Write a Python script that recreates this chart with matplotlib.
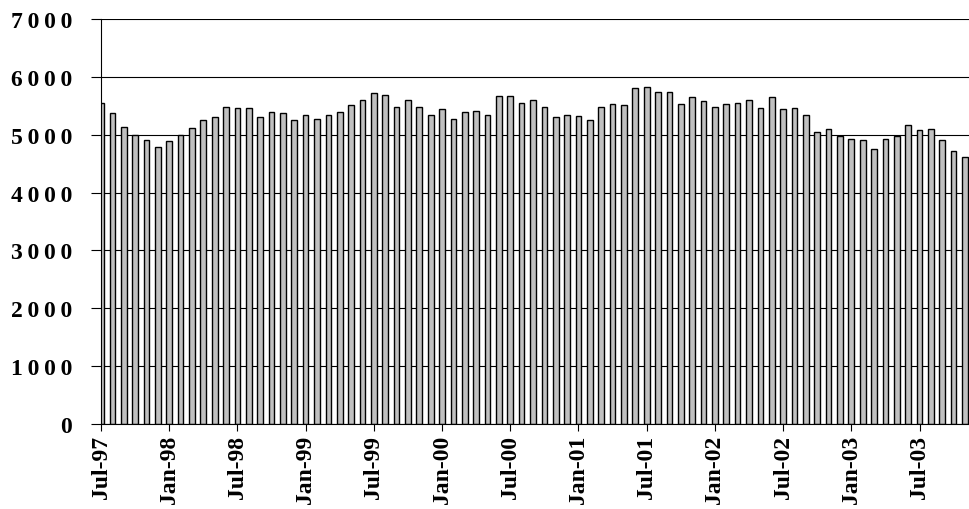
import matplotlib
matplotlib.use('Agg')
import matplotlib.pyplot as plt
from matplotlib.ticker import FuncFormatter

# monthly values, Jul-97 .. Nov-03
values = [5556, 5371, 5139, 5000, 4913, 4792, 4891, 5000, 5122, 5260,
          5302, 5486, 5463, 5463, 5302, 5399, 5371, 5260, 5347, 5278,
          5347, 5399, 5510, 5602, 5718, 5694, 5486, 5602, 5486, 5347,
          5440, 5278, 5399, 5417, 5347, 5672, 5672, 5556, 5602, 5486,
          5302, 5347, 5325, 5255, 5486, 5533, 5510, 5811, 5833, 5741,
          5741, 5533, 5649, 5580, 5486, 5533, 5556, 5602, 5463, 5649,
          5440, 5463, 5347, 5047, 5094, 4977, 4931, 4913, 4757, 4931,
          4977, 5163, 5076, 5094, 4913, 4722, 4613]
tick_labels = ['Jul-97', 'Jan-98', 'Jul-98', 'Jan-99', 'Jul-99', 'Jan-00', 'Jul-00',
               'Jan-01', 'Jul-01', 'Jan-02', 'Jul-02', 'Jan-03', 'Jul-03']
y_ticks = [0, 1000, 2000, 3000, 4000, 5000, 6000, 7000]

font = ['Liberation Serif', 'DejaVu Serif']

fig = plt.figure(figsize=(9.69, 5.10), dpi=100)
ax = fig.add_axes([101 / 969, 85 / 510, 868 / 969, 405 / 510])

x = list(range(len(values)))
ax.bar(x, values, width=0.5, color='#c0c0c0', edgecolor='black', linewidth=1.0, zorder=3)

ax.set_xlim(0, 76.35)
ax.set_ylim(0, 7000)
ax.set_yticks(y_ticks)
ax.yaxis.set_major_formatter(FuncFormatter(lambda v, p: '\u2009'.join(str(int(v)))))
ax.set_xticks(range(0, len(values), 6))
ax.set_xticklabels(tick_labels, rotation=90)

ax.grid(axis='y', color='black', linewidth=0.8, zorder=0)
ax.tick_params(axis='y', length=7.2, width=0.8, pad=13.5, color='black')
ax.tick_params(axis='x', length=5, width=0.8, pad=3)
for lab in ax.get_yticklabels() + ax.get_xticklabels():
    lab.set_family(font)
    lab.set_fontweight('bold')
    lab.set_fontsize(17)

for s in ['top', 'right']:
    ax.spines[s].set_visible(False)
for s in ['left', 'bottom']:
    ax.spines[s].set_linewidth(0.8)
    ax.spines[s].set_zorder(4)

fig.savefig('out.png', dpi=100)
